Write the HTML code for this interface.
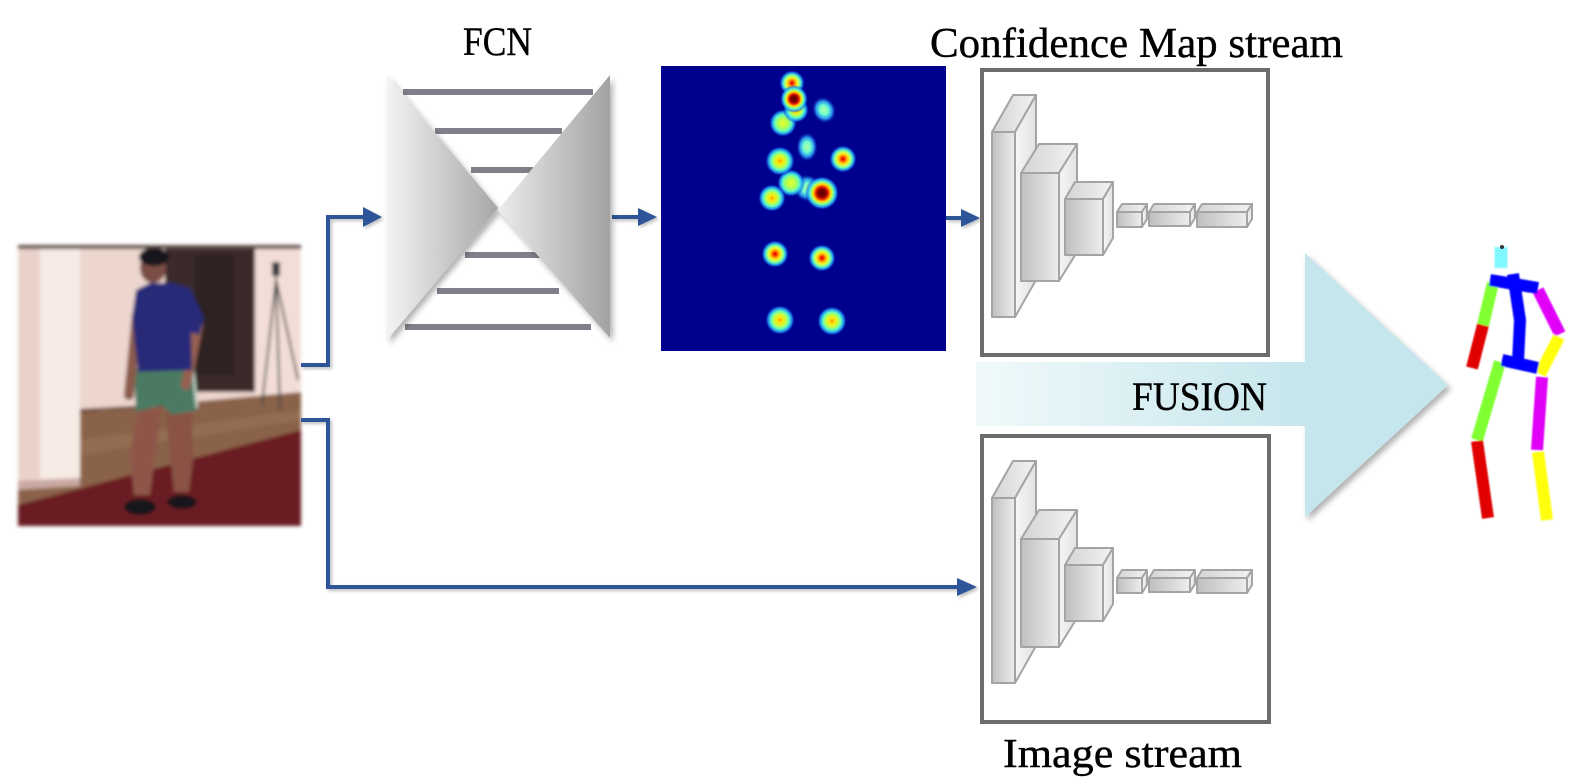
<!DOCTYPE html>
<html>
<head>
<meta charset="utf-8">
<style>
html,body{margin:0;padding:0;background:#fff;}
svg{display:block;}
text{font-family:"Liberation Serif",serif;fill:#000;}
</style>
</head>
<body>
<svg width="1581" height="780" viewBox="0 0 1581 780" xmlns="http://www.w3.org/2000/svg">
<defs>
  <linearGradient id="triL" x1="0" y1="0" x2="1" y2="0">
    <stop offset="0" stop-color="#f3f3f3"/>
    <stop offset="1" stop-color="#a6a6a6"/>
  </linearGradient>
  <linearGradient id="triR" x1="0" y1="0" x2="1" y2="0">
    <stop offset="0" stop-color="#ececec"/>
    <stop offset="1" stop-color="#a2a2a2"/>
  </linearGradient>
  <filter id="sh" x="-20%" y="-20%" width="140%" height="140%">
    <feDropShadow dx="3" dy="4" stdDeviation="3" flood-color="#000" flood-opacity="0.3"/>
  </filter>
  <filter id="sh2" x="-20%" y="-20%" width="140%" height="140%">
    <feDropShadow dx="2" dy="2" stdDeviation="1.5" flood-color="#000" flood-opacity="0.25"/>
  </filter>
  <filter id="blur"><feGaussianBlur stdDeviation="1.8"/></filter>
  <filter id="blur2"><feGaussianBlur stdDeviation="0.8"/></filter>
  <linearGradient id="front" x1="0" y1="0" x2="1" y2="0">
    <stop offset="0" stop-color="#bfbfbf"/>
    <stop offset="1" stop-color="#ededed"/>
  </linearGradient>
  <linearGradient id="topf" x1="0" y1="0" x2="1" y2="0">
    <stop offset="0" stop-color="#d4d4d4"/>
    <stop offset="1" stop-color="#f2f2f2"/>
  </linearGradient>
  <linearGradient id="side" x1="0" y1="0" x2="1" y2="0">
    <stop offset="0" stop-color="#f6f6f6"/>
    <stop offset="1" stop-color="#e2e2e2"/>
  </linearGradient>
  <linearGradient id="fus" x1="0" y1="0" x2="1" y2="0">
    <stop offset="0" stop-color="#f0f9fb"/>
    <stop offset="1" stop-color="#c5e6ec"/>
  </linearGradient>
  <radialGradient id="hot">
    <stop offset="0" stop-color="#c00000"/>
    <stop offset="0.12" stop-color="#ff3000"/>
    <stop offset="0.3" stop-color="#ffc000"/>
    <stop offset="0.46" stop-color="#e0ff40"/>
    <stop offset="0.63" stop-color="#70ffb0"/>
    <stop offset="0.8" stop-color="#20a0ff" stop-opacity="0.85"/>
    <stop offset="1" stop-color="#0000a0" stop-opacity="0"/>
  </radialGradient>
  <radialGradient id="dark">
    <stop offset="0" stop-color="#500000"/>
    <stop offset="0.25" stop-color="#900000"/>
    <stop offset="0.38" stop-color="#f03000"/>
    <stop offset="0.52" stop-color="#ffe000"/>
    <stop offset="0.68" stop-color="#70ffb0"/>
    <stop offset="0.84" stop-color="#20a0ff" stop-opacity="0.85"/>
    <stop offset="1" stop-color="#0000a0" stop-opacity="0"/>
  </radialGradient>
  <radialGradient id="yel">
    <stop offset="0" stop-color="#ff9000"/>
    <stop offset="0.15" stop-color="#ffe000"/>
    <stop offset="0.4" stop-color="#c8ff40"/>
    <stop offset="0.6" stop-color="#60ffc0"/>
    <stop offset="0.8" stop-color="#20a0ff" stop-opacity="0.85"/>
    <stop offset="1" stop-color="#0000a0" stop-opacity="0"/>
  </radialGradient>
  <radialGradient id="lime">
    <stop offset="0" stop-color="#e8ff30"/>
    <stop offset="0.35" stop-color="#b0ff50"/>
    <stop offset="0.6" stop-color="#60ffc0"/>
    <stop offset="0.8" stop-color="#20a0ff" stop-opacity="0.85"/>
    <stop offset="1" stop-color="#0000a0" stop-opacity="0"/>
  </radialGradient>
  <radialGradient id="cyan">
    <stop offset="0" stop-color="#b0ffa0"/>
    <stop offset="0.35" stop-color="#70ffd0"/>
    <stop offset="0.65" stop-color="#30b0ff" stop-opacity="0.85"/>
    <stop offset="1" stop-color="#0000a0" stop-opacity="0"/>
  </radialGradient>

  <g id="cnn" stroke="#a4a4a4" stroke-width="2" stroke-linejoin="round">
    <polygon points="992,132 1013,95 1036,95 1015,132" fill="url(#topf)"/>
    <polygon points="1015,132 1036,95 1036,280 1015,317" fill="url(#side)"/>
    <rect x="992" y="132" width="23" height="185" fill="url(#front)"/>
    <polygon points="1021,173 1039,144 1077,144 1059,173" fill="url(#topf)"/>
    <polygon points="1059,173 1077,144 1077,252 1059,281" fill="url(#side)"/>
    <rect x="1021" y="173" width="38" height="108" fill="url(#front)"/>
    <polygon points="1065,199 1075,182 1113,182 1103,199" fill="url(#topf)"/>
    <polygon points="1103,199 1113,182 1113,238 1103,255" fill="url(#side)"/>
    <rect x="1065" y="199" width="38" height="56" fill="url(#front)"/>
    <polygon points="1117,212 1122,204 1147,204 1142,212" fill="url(#topf)"/>
    <polygon points="1142,212 1147,204 1147,219 1142,227" fill="url(#side)"/>
    <rect x="1117" y="212" width="25" height="15" fill="url(#front)"/>
    <polygon points="1149,212 1154,204 1195,204 1190,212" fill="url(#topf)"/>
    <polygon points="1190,212 1195,204 1195,218 1190,226" fill="url(#side)"/>
    <rect x="1149" y="212" width="41" height="14" fill="url(#front)"/>
    <polygon points="1197,212 1202,204 1252,204 1247,212" fill="url(#topf)"/>
    <polygon points="1247,212 1252,204 1252,219 1247,227" fill="url(#side)"/>
    <rect x="1197" y="212" width="50" height="15" fill="url(#front)"/>
  </g>
</defs>

<!-- ===== Photo ===== -->
<g filter="url(#blur)">
  <rect x="18" y="245" width="283" height="281" fill="#6b1e22"/>
  <rect x="18" y="245" width="283" height="165" fill="#ecd6ce"/>
  <rect x="18" y="245" width="283" height="4" fill="#5e4e4c"/>
  <rect x="165" y="249" width="90" height="143" fill="#3a2b2b"/>
  <rect x="195" y="255" width="40" height="120" fill="#2e2222"/>
  <rect x="255" y="249" width="46" height="150" fill="#f2ded6"/>
  <polygon points="80,412 301,392 301,430 18,505 18,483 80,475" fill="#8a6248"/>
  <polygon points="80,440 301,410 301,420 80,455" fill="#9a7458" opacity="0.6"/>
  <line x1="80" y1="410" x2="170" y2="405" stroke="#5a4038" stroke-width="2"/>
  <rect x="18" y="249" width="22" height="232" fill="#ead2ca"/>
  <rect x="40" y="249" width="40" height="232" fill="#f7ebe5"/>
  <polygon points="18,481 80,478 80,486 18,490" fill="#c8a8a0"/>
  <g stroke="#4a4a4a" stroke-width="2" fill="none">
    <line x1="276" y1="280" x2="262" y2="405"/>
    <line x1="276" y1="280" x2="298" y2="380"/>
    <line x1="276" y1="280" x2="280" y2="410"/>
    <line x1="276" y1="262" x2="276" y2="290"/>
  </g>
  <rect x="272" y="262" width="8" height="14" fill="#3a3a3a"/>
  <polygon points="138,410 162,408 155,455 150,495 134,495 130,455" fill="#8e5648"/>
  <polygon points="165,410 192,410 193,460 189,492 174,492 170,455" fill="#8a5244"/>
  <ellipse cx="140" cy="507" rx="16" ry="8" fill="#16161a"/>
  <ellipse cx="182" cy="502" rx="15" ry="7" fill="#18181c"/>
  <polygon points="134,368 195,366 198,410 172,415 162,405 136,412" fill="#4b7a62"/>
  <line x1="193" y1="372" x2="197" y2="408" stroke="#d8e0d8" stroke-width="2"/>
  <line x1="137" y1="315" x2="129" y2="395" stroke="#8a5a4c" stroke-width="10" stroke-linecap="round"/>
  <line x1="198" y1="325" x2="186" y2="385" stroke="#946050" stroke-width="10" stroke-linecap="round"/>
  <polygon points="136,290 150,283 172,283 190,288 204,318 199,335 191,332 192,370 138,372 134,335 132,318" fill="#262a78"/>
  <ellipse cx="153" cy="268" rx="13" ry="15" fill="#7a4e44"/>
  <ellipse cx="154" cy="257" rx="15" ry="9" fill="#18181e"/>
</g>

<!-- ===== Connectors ===== -->
<g filter="url(#sh2)">
  <polyline points="301,365 328,365 328,217 366,217" fill="none" stroke="#2f5597" stroke-width="4"/>
  <polygon points="363,207 382,217 363,227" fill="#2f5597"/>
  <polyline points="301,420 328,420 328,587 960,587" fill="none" stroke="#2f5597" stroke-width="4"/>
  <polygon points="957,578 977,587 957,596" fill="#2f5597"/>
  <line x1="612" y1="217" x2="641" y2="217" stroke="#2f5597" stroke-width="4"/>
  <polygon points="638,208 657,217 638,226" fill="#2f5597"/>
  <line x1="946" y1="218" x2="964" y2="218" stroke="#2f5597" stroke-width="4"/>
  <polygon points="961,209 980,218 961,227" fill="#2f5597"/>
</g>

<!-- ===== FCN ===== -->
<g fill="#7f8089">
  <rect x="403" y="89" width="190" height="6"/>
  <rect x="435" y="128" width="127" height="6"/>
  <rect x="471" y="167" width="62" height="6"/>
  <rect x="465" y="252" width="75" height="6"/>
  <rect x="437" y="288" width="122" height="6"/>
  <rect x="405" y="324" width="186" height="6"/>
</g>
<g filter="url(#sh)">
  <polygon points="387,75 498,208 387,340" fill="url(#triL)"/>
  <polygon points="610,75 498,210 610,338" fill="url(#triR)"/>
</g>
<text x="463" y="55" font-size="40" textLength="69" lengthAdjust="spacingAndGlyphs" stroke="#000" stroke-width="0.4">FCN</text>

<!-- ===== Heatmap ===== -->
<rect x="661" y="66" width="285" height="285" fill="#00008e"/>
<g>
  <ellipse cx="824" cy="110" rx="12" ry="14" fill="url(#cyan)" transform="rotate(-25 824 110)"/>
  <ellipse cx="807" cy="147" rx="11" ry="15" fill="url(#cyan)"/>
  <circle cx="807" cy="188" r="14" fill="url(#cyan)"/>
  <circle cx="791" cy="183" r="14" fill="url(#lime)"/>
  <circle cx="783" cy="123" r="14" fill="url(#lime)"/>
  <circle cx="780" cy="161" r="15" fill="url(#yel)"/>
  <circle cx="772" cy="198" r="14" fill="url(#yel)"/>
  <circle cx="796" cy="110" r="13" fill="url(#yel)"/>
  <circle cx="792" cy="83" r="13" fill="url(#hot)"/>
  <circle cx="794" cy="99" r="14" fill="url(#dark)"/>
  <circle cx="843" cy="159" r="14" fill="url(#hot)"/>
  <circle cx="822" cy="193" r="17" fill="url(#dark)"/>
  <circle cx="775" cy="254" r="14" fill="url(#hot)"/>
  <circle cx="822" cy="258" r="14" fill="url(#hot)"/>
  <circle cx="780" cy="320" r="15" fill="url(#yel)"/>
  <circle cx="832" cy="321" r="15" fill="url(#yel)"/>
</g>

<!-- ===== Boxes ===== -->
<text x="930" y="57" font-size="42" textLength="413" lengthAdjust="spacingAndGlyphs" stroke="#000" stroke-width="0.4">Confidence Map stream</text>
<rect x="982" y="70" width="286" height="285" fill="#fff" stroke="#6c6c6c" stroke-width="4"/>
<use href="#cnn"/>

<rect x="982" y="436" width="287" height="286" fill="#fff" stroke="#6c6c6c" stroke-width="4"/>
<use href="#cnn" transform="translate(0,366)"/>
<text x="1003" y="767" font-size="41" textLength="239" lengthAdjust="spacingAndGlyphs" stroke="#000" stroke-width="0.4">Image stream</text>

<!-- ===== Fusion arrow ===== -->
<rect x="976" y="362" width="332" height="64" fill="url(#fus)"/>
<polygon points="1305,253 1448,385 1305,517" fill="#c5e6ec" filter="url(#sh)"/>
<rect x="1300" y="362" width="10" height="64" fill="#c5e6ec"/>
<text x="1132" y="410" font-size="40" textLength="135" lengthAdjust="spacingAndGlyphs" stroke="#000" stroke-width="0.4">FUSION</text>

<!-- ===== Skeleton ===== -->
<g filter="url(#blur2)" stroke-width="12" stroke-linecap="butt" fill="none">
  <line x1="1501" y1="247" x2="1501" y2="268" stroke="#80f8ff" stroke-width="13"/>
  <line x1="1493" y1="283" x2="1483" y2="325" stroke="#80ff30"/>
  <line x1="1483" y1="325" x2="1472" y2="368" stroke="#e00000"/>
  <line x1="1538" y1="290" x2="1560" y2="334" stroke="#e000f8"/>
  <line x1="1559" y1="337" x2="1540" y2="374" stroke="#ffff10"/>
  <line x1="1500" y1="362" x2="1477" y2="440" stroke="#80ff30"/>
  <line x1="1477" y1="441" x2="1488" y2="518" stroke="#e00000"/>
  <line x1="1542" y1="377" x2="1537" y2="450" stroke="#e000f8"/>
  <line x1="1538" y1="452" x2="1547" y2="520" stroke="#ffff10"/>
  <line x1="1490" y1="280" x2="1538" y2="288" stroke="#0000ff"/>
  <polyline points="1513,274 1520,320 1518,362" stroke="#0000ff"/>
  <line x1="1502" y1="360" x2="1538" y2="368" stroke="#0000ff"/>
</g>
<circle cx="1502" cy="247" r="2" fill="#333"/>
</svg>
</body>
</html>
